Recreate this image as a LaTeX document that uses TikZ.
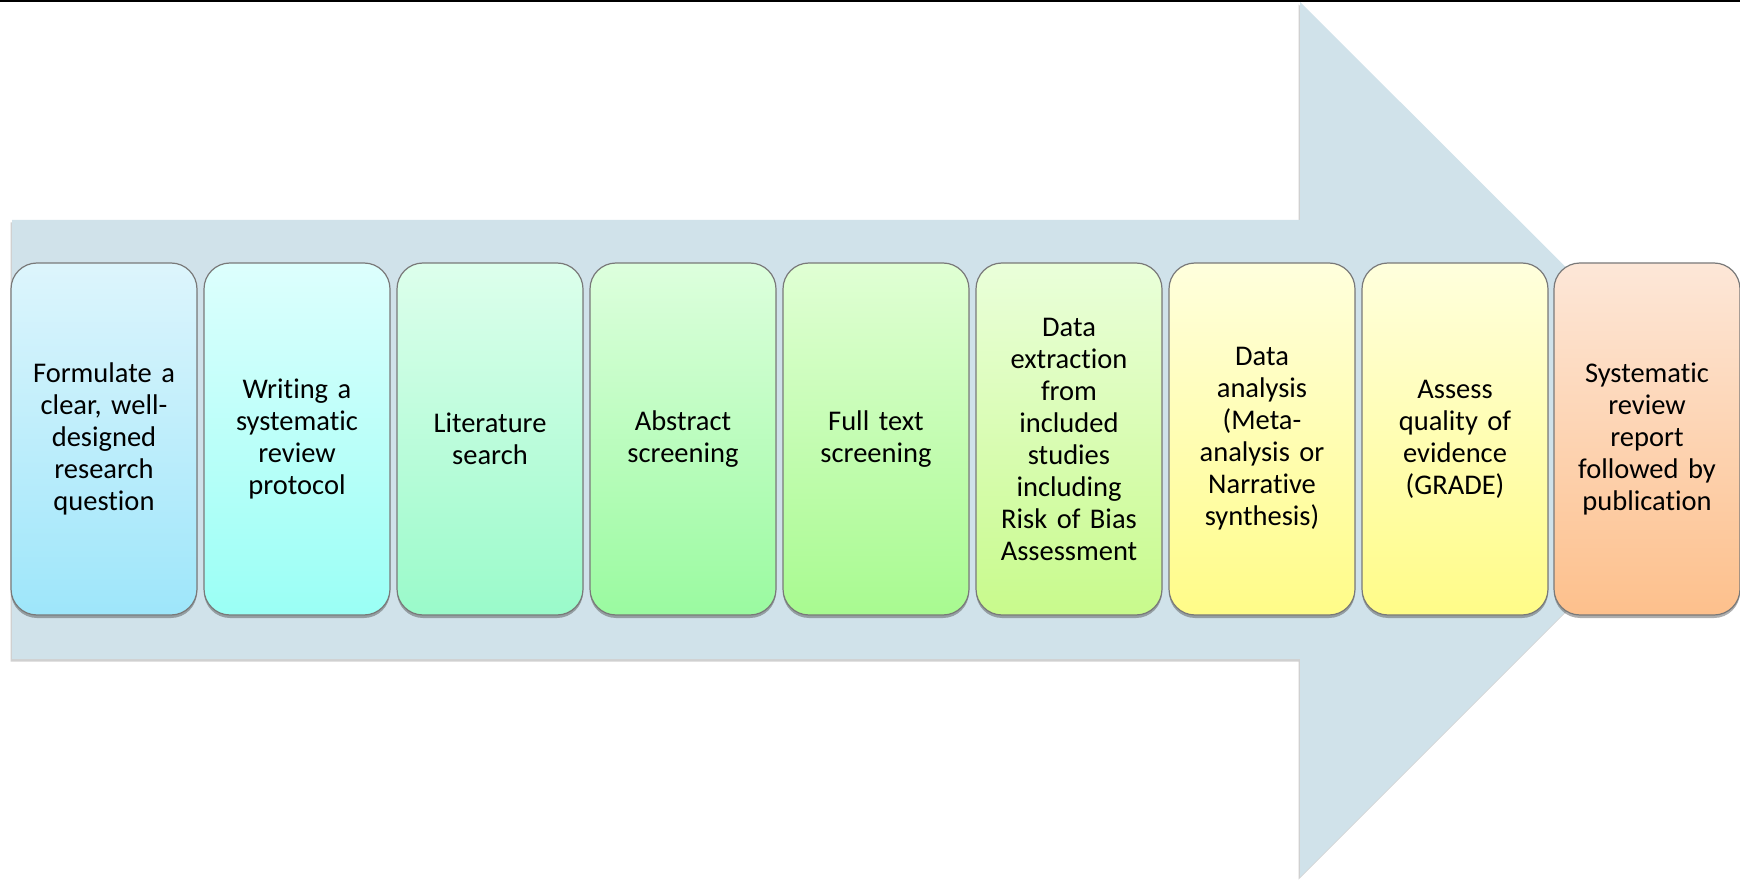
\documentclass[tikz,border=0pt]{standalone}
\usepackage{fontspec}
\setmainfont[Ligatures={NoCommon}]{Carlito}
\usetikzlibrary{shadows}
\definecolor{arrowfill}{HTML}{D0E2EA}
\definecolor{t1}{HTML}{DDF5FC}\definecolor{b1}{HTML}{9EE6FA}
\definecolor{t2}{HTML}{DDFFFD}\definecolor{b2}{HTML}{9AFFF5}
\definecolor{t3}{HTML}{DDFFEC}\definecolor{b3}{HTML}{9AFACA}
\definecolor{t4}{HTML}{DDFFDD}\definecolor{b4}{HTML}{9AFAA0}
\definecolor{t5}{HTML}{E0FFD4}\definecolor{b5}{HTML}{A8FA90}
\definecolor{t6}{HTML}{EAFFDA}\definecolor{b6}{HTML}{C8FA8C}
\definecolor{t7}{HTML}{FFFFDD}\definecolor{b7}{HTML}{FFFC88}
\definecolor{t9}{HTML}{FDE7D8}\definecolor{b9}{HTML}{FDC08C}
\tikzset{
  stagebox/.style={draw=gray!95!black, line width=1.2pt, rounded corners=26pt,
    minimum width=186pt, minimum height=352pt, inner sep=0pt,
    align=center, text width=184pt,
    font=\fontsize{28.5}{32}\selectfont,
    drop shadow={shadow xshift=0pt, shadow yshift=-3pt, opacity=0.45, fill=black!70}},
  bigarrow/.style={fill=arrowfill,
    drop shadow={shadow xshift=-1.5pt, shadow yshift=-2.5pt, opacity=0.3, fill=black!60}}
}
\begin{document}
\begin{tikzpicture}[x=1pt, y=-1pt]
\useasboundingbox (0,0) rectangle (1740,882);
\fill[white] (0,0) rectangle (1740,882);
\fill[black] (0,0) rectangle (1740,2);
\path[bigarrow] (12,220) -- (1300,220) -- (1300,2) -- (1738,439) -- (1300,877) -- (1300,659) -- (12,659) -- cycle;
\node[stagebox, top color=t1, bottom color=b1] (s1) at (104,439) {Formulate a\\clear, well-\\designed\\research\\question};
\node[stagebox, top color=t2, bottom color=b2] (s2) at (297,439) {Writing a\\systematic\\review\\protocol};
\node[stagebox, top color=t3, bottom color=b3] (s3) at (490,439) {Literature\\search};
\node[stagebox, top color=t4, bottom color=b4] (s4) at (683,439) {Abstract\\screening};
\node[stagebox, top color=t5, bottom color=b5] (s5) at (876,439) {Full text\\screening};
\node[stagebox, top color=t6, bottom color=b6] (s6) at (1069,439) {Data\\extraction\\from\\included\\studies\\including\\Risk of Bias\\Assessment};
\node[stagebox, top color=t7, bottom color=b7] (s7) at (1262,439) {Data\\analysis\\(Meta-\\analysis or\\Narrative\\synthesis)};
\node[stagebox, top color=t7, bottom color=b7] (s8) at (1455,439) {Assess\\quality of\\evidence\\(GRADE)};
\node[stagebox, top color=t9, bottom color=b9] (s9) at (1647,439) {Systematic\\review\\report\\followed by\\publication};
\end{tikzpicture}
\end{document}
